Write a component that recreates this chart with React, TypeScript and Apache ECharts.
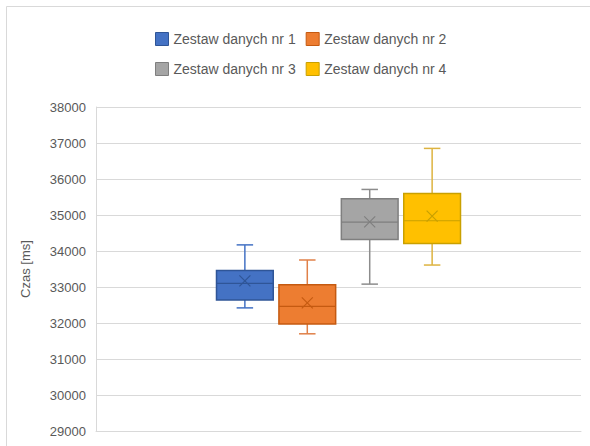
import React, { useEffect, useRef } from "react";
import * as echarts from "echarts";

const seriesNames = ["Zestaw danych nr 1", "Zestaw danych nr 2", "Zestaw danych nr 3", "Zestaw danych nr 4"];
// [min, q1, median, q3, max, mean]
const set1 = [32420, 32640, 33100, 33460, 34170, 33170];
const set2 = [31700, 31970, 32460, 33060, 33750, 32560];
const set3 = [33080, 34320, 34800, 35450, 35710, 34810];
const set4 = [33610, 34210, 34840, 35600, 36850, 34970];
const allSets = [set1, set2, set3, set4];
const fills = ["#4472C4", "#ED7D31", "#A5A5A5", "#FFC000"];
const borders = ["#2F5597", "#C55A11", "#7F7F7F", "#C9A000"];
const whiskers = ["#4472C4", "#E08048", "#8C8C8C", "#DDB340"];
const yMin = 29000;
const yMax = 38000;
const yStep = 1000;

export default function App() {
  const ref = useRef<HTMLDivElement>(null);
  useEffect(() => {
    if (!ref.current) return;
    const chart = echarts.init(ref.current, undefined, { renderer: "svg" });
    const renderItem = (params: any, api: any) => {
      const si = params.seriesIndex;
      const cat = api.value(0);
      const bw = api.size([1, 0])[0];
      const vals = [1, 2, 3, 4, 5, 6].map((i) => api.value(i));
      const c = api.coord([cat, vals[2]]);
      const x = c[0] + (si - 1.5) * bw * 0.1287;
      const w = bw * 0.117;
      const cap = bw * 0.017;
      const y = (v: number) => api.coord([cat, v])[1];
      const yMinP = y(vals[0]);
      const yQ1 = y(vals[1]);
      const yMed = y(vals[2]);
      const yQ3 = y(vals[3]);
      const yMaxP = y(vals[4]);
      const yMean = y(vals[5]);
      const wStyle = { stroke: whiskers[si], lineWidth: 1.5 };
      const dStyle = { stroke: borders[si], lineWidth: 1.2 };
      const m = 5.5;
      return {
        type: "group",
        children: [
          { type: "line", shape: { x1: x, y1: yMaxP, x2: x, y2: yQ3 }, style: wStyle },
          { type: "line", shape: { x1: x - cap, y1: yMaxP, x2: x + cap, y2: yMaxP }, style: wStyle },
          { type: "line", shape: { x1: x, y1: yMinP, x2: x, y2: yQ1 }, style: wStyle },
          { type: "line", shape: { x1: x - cap, y1: yMinP, x2: x + cap, y2: yMinP }, style: wStyle },
          {
            type: "rect",
            shape: { x: x - w / 2, y: yQ3, width: w, height: yQ1 - yQ3 },
            style: { fill: fills[si], stroke: borders[si], lineWidth: 1.5 },
          },
          { type: "line", shape: { x1: x - w / 2, y1: yMed, x2: x + w / 2, y2: yMed }, style: dStyle },
          { type: "line", shape: { x1: x - m, y1: yMean - m, x2: x + m, y2: yMean + m }, style: dStyle },
          { type: "line", shape: { x1: x - m, y1: yMean + m, x2: x + m, y2: yMean - m }, style: dStyle },
        ],
      };
    };
    const legendItem = (i: number) => ({
      name: seriesNames[i],
      icon: "rect",
      itemStyle: { color: fills[i], borderColor: borders[i], borderWidth: 1 },
    });
    const legendBase = {
      itemWidth: 13,
      itemHeight: 13,
      itemGap: 10,
      textStyle: { color: "#595959", fontSize: 14, fontFamily: "Liberation Sans" },
      selectedMode: false,
    };
    chart.setOption({
      animation: false,
      backgroundColor: "#fff",
      graphic: [
        {
          type: "rect",
          shape: { x: 6.5, y: 6.5, width: 620, height: 480 },
          style: { fill: "none", stroke: "#D9D9D9", lineWidth: 1 },
          silent: true,
        },
      ],
      legend: [
        { ...legendBase, left: 150, top: 27, data: [legendItem(0), legendItem(1)] },
        { ...legendBase, left: 150, top: 57, data: [legendItem(2), legendItem(3)] },
      ],
      grid: { left: 96, top: 107, right: 9, bottom: 15, containLabel: false },
      xAxis: {
        type: "category",
        data: [""],
        axisLine: { show: true, lineStyle: { color: "#D9D9D9" } },
        axisTick: { show: false },
        axisLabel: { show: false },
      },
      yAxis: {
        type: "value",
        min: yMin,
        max: yMax,
        interval: yStep,
        name: "Czas [ms]",
        nameLocation: "middle",
        nameGap: 64,
        nameTextStyle: { color: "#595959", fontSize: 13, fontFamily: "Liberation Sans" },
        axisLine: { show: true, lineStyle: { color: "#D9D9D9" } },
        axisTick: { show: false },
        axisLabel: {
          color: "#595959",
          fontSize: 13,
          fontFamily: "Liberation Sans",
          margin: 10,
          formatter: (v: number) => String(v),
        },
        splitLine: { show: true, lineStyle: { color: "#D9D9D9" } },
      },
      series: allSets.map((s, i) => ({
        name: seriesNames[i],
        type: "custom",
        renderItem,
        itemStyle: { color: fills[i] },
        encode: { x: 0, y: [1, 2, 3, 4, 5, 6] },
        data: [[0, ...s]],
      })),
    });
    return () => chart.dispose();
  }, []);
  return <div ref={ref} style={{ position: "fixed", left: 0, top: 0, width: 590, height: 446 }} />;
}
